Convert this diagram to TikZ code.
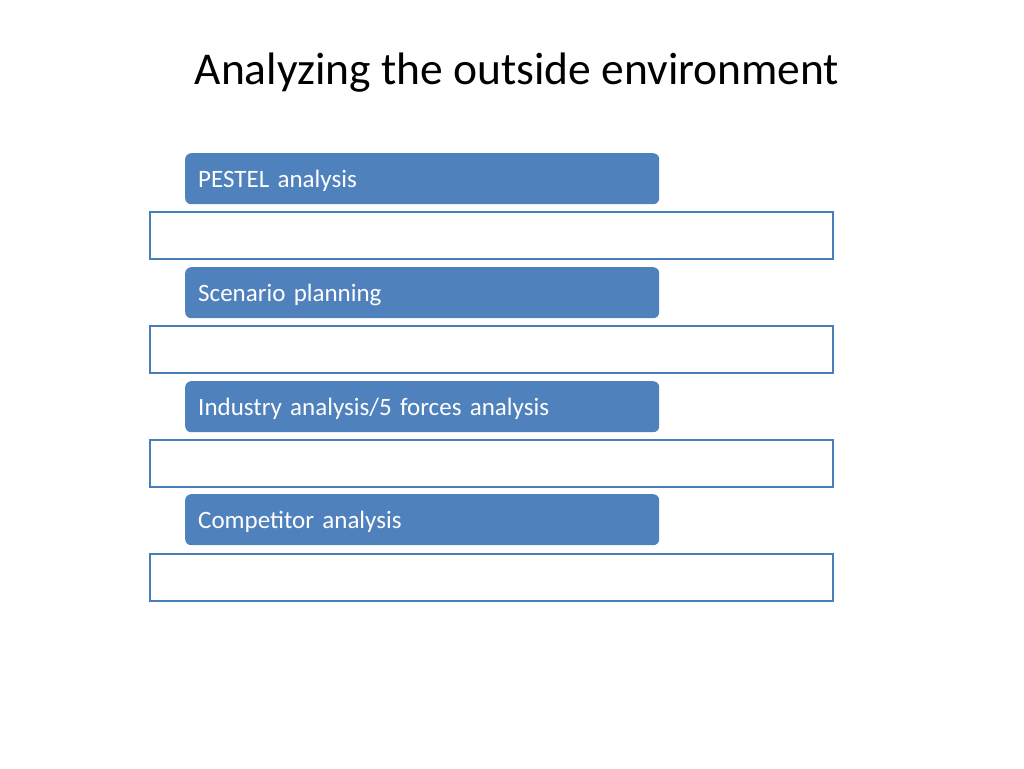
\documentclass[tikz,border=0pt]{standalone}
\usepackage{fontspec}
\setmainfont{Carlito}
\definecolor{accentblue}{HTML}{4F81BD}
\definecolor{frameblue}{HTML}{4A7EBB}
\tikzset{
  itembox/.style={fill=accentblue, rounded corners=6pt, text=white, anchor=north west,
    text width=448pt, inner xsep=13pt, inner ysep=0pt, minimum height=51pt,
    text height=24pt, text depth=6pt,
    font=\fontsize{25}{30}\selectfont},
  framebox/.style={draw=frameblue, line width=2.2pt, fill=white, anchor=north west,
    minimum width=683pt, minimum height=47pt, inner sep=0pt}
}
\begin{document}
\begin{tikzpicture}[x=1pt,y=-1pt]
	\useasboundingbox (0,0) rectangle (1024,768);
	\node[font=\fontsize{45.5}{54}\selectfont] (title) at (517,73) {Analyzing the outside environment};
	% first block
	\node[itembox] (pestel) at (185,153) {PESTEL analysis};
	\node[framebox] (pestelbody) at (149,211) {};
	% second block
	\node[itembox] (scenario) at (185,267) {Scenario planning};
	\node[framebox] (scenariobody) at (149,325) {};
	% third block
	\node[itembox] (industry) at (185,381) {Industry analysis/5 forces analysis};
	\node[framebox] (industrybody) at (149,439) {};
	% fourth block
	\node[itembox] (competitor) at (185,494) {Competitor analysis};
	\node[framebox] (competitorbody) at (149,553) {};
\end{tikzpicture}
\end{document}
